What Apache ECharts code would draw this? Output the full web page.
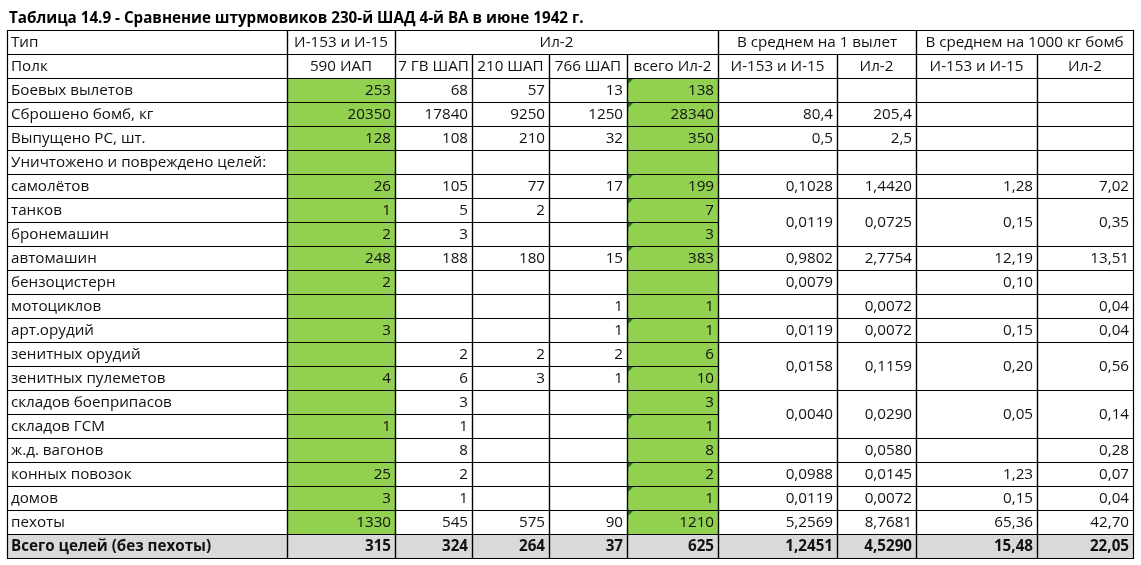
<!DOCTYPE html>
<html>
<head>
<meta charset="utf-8">
<script src="https://cdn.jsdelivr.net/npm/echarts@6/dist/echarts.min.js"></script>
<style>
  html, body { margin: 0; padding: 0; background: #fff; }
  #chart { width: 1141px; height: 565px; }
</style>
</head>
<body>
<div id="chart"></div>
<script>
const tableTitle = 'Таблица 14.9 - Сравнение штурмовиков 230-й ШАД 4-й ВА в июне 1942 г.'

// header rows
const typeHeaders = ['Тип', 'И-153 и И-15', 'Ил-2', 'В среднем на 1 вылет', 'В среднем на 1000 кг бомб']
const regimentHeaders = ['Полк', '590 ИАП', '7 ГВ ШАП', '210 ШАП', '766 ШАП', 'всего Ил-2', 'И-153 и И-15', 'Ил-2', 'И-153 и И-15', 'Ил-2']

// body rows (table rows 2..21)
const rowLabels = [
  'Боевых вылетов', 'Сброшено бомб, кг', 'Выпущено РС, шт.', 'Уничтожено и повреждено целей:',
  'самолётов', 'танков', 'бронемашин', 'автомашин', 'бензоцистерн', 'мотоциклов', 'арт.орудий',
  'зенитных орудий', 'зенитных пулеметов', 'складов боеприпасов', 'складов ГСМ', 'ж.д. вагонов',
  'конных повозок', 'домов', 'пехоты', 'Всего целей (без пехоты)'
]
const iap590 = [253, 20350, 128, null, 26, 1, 2, 248, 2, null, 3, null, 4, null, 1, null, 25, 3, 1330, 315]
const gvshap7 = [68, 17840, 108, null, 105, 5, 3, 188, null, null, null, 2, 6, 3, 1, 8, 2, 1, 545, 324]
const shap210 = [57, 9250, 210, null, 77, 2, null, 180, null, null, null, 2, 3, null, null, null, null, null, 575, 264]
const shap766 = [13, 1250, 32, null, 17, null, null, 15, null, 1, 1, 2, 1, null, null, null, null, null, 90, 37]
const il2Total = [138, 28340, 350, null, 199, 7, 3, 383, null, 1, 1, 6, 10, 3, 1, 8, 2, 1, 1210, 625]
// averages (second row of a merged pair is null)
const perSortieI153 = [null, 80.4, 0.5, null, 0.1028, 0.0119, null, 0.9802, 0.0079, null, 0.0119, 0.0158, null, 0.0040, null, null, 0.0988, 0.0119, 5.2569, 1.2451]
const perSortieIl2 = [null, 205.4, 2.5, null, 1.4420, 0.0725, null, 2.7754, null, 0.0072, 0.0072, 0.1159, null, 0.0290, null, 0.0580, 0.0145, 0.0072, 8.7681, 4.5290]
const per1000I153 = [null, null, null, null, 1.28, 0.15, null, 12.19, 0.10, null, 0.15, 0.20, null, 0.05, null, null, 1.23, 0.15, 65.36, 15.48]
const per1000Il2 = [null, null, null, null, 7.02, 0.35, null, 13.51, null, 0.04, 0.04, 0.56, null, 0.14, null, 0.28, 0.07, 0.04, 42.70, 22.05]

// layout
const colEdges = [0, 280, 388, 465, 542, 620, 711, 830, 909, 1030, 1126]
const mergedStarts = [7, 13, 15] // table rows where avg cells span 2 rows
const flaggedRows = [2, 3, 6, 7, 8, 9, 12, 14, 16, 18, 19, 20]
const GREEN = '#92d050'
const GRAY = '#d9d9d9'
const FONT = '"Open Sans", sans-serif'
const FS = 15.2

const fmt = (v, d) => v == null ? '' : (d == null ? String(v) : v.toFixed(d).replace('.', ','))

const cells = []
function addCell (c0, c1, r0, r1, text, align, fill, bold, flag) {
  cells.push({ c0, c1, r0, r1, text, align, fill: fill || '#fff', bold: !!bold, flag: !!flag })
}

addCell(0, 1, 0, 1, typeHeaders[0], 'left')
addCell(1, 2, 0, 1, typeHeaders[1], 'center')
addCell(2, 6, 0, 1, typeHeaders[2], 'center')
addCell(6, 8, 0, 1, typeHeaders[3], 'center')
addCell(8, 10, 0, 1, typeHeaders[4], 'center')
regimentHeaders.forEach((h, i) => addCell(i, i + 1, 1, 2, h, i === 0 ? 'left' : 'center'))

const countCols = [iap590, gvshap7, shap210, shap766, il2Total]
const avgCols = [perSortieI153, perSortieIl2, per1000I153, per1000Il2]
rowLabels.forEach((label, i) => {
  const r = i + 2
  const last = i === rowLabels.length - 1
  const rowFill = last ? GRAY : null
  addCell(0, 1, r, r + 1, label, 'left', rowFill, last)
  countCols.forEach((col, j) => {
    const c = j + 1
    const green = !last && (c === 1 || c === 5)
    const flag = c === 5 && flaggedRows.includes(r)
    addCell(c, c + 1, r, r + 1, fmt(col[i]), 'right', green ? GREEN : rowFill, last, flag)
  })
  if (mergedStarts.includes(r - 1)) return
  const span = mergedStarts.includes(r) ? 2 : 1
  avgCols.forEach((col, j) => {
    const c = j + 6
    const d = j < 2 ? ((r === 3 || r === 4) ? 1 : 4) : 2
    addCell(c, c + 1, r, r + span, fmt(col[i], d), 'right', rowFill, last)
  })
})

const cellData = cells.map(c => [colEdges[c.c0], c.r0, colEdges[c.c1], c.r1])

function cellBox (api) {
  const p0 = api.coord([api.value(0), api.value(1)])
  const p1 = api.coord([api.value(2), api.value(3)])
  const x0 = Math.round(p0[0]), y0 = Math.round(p0[1])
  const x1 = Math.round(p1[0]), y1 = Math.round(p1[1])
  return { x0, y0, x1, y1 }
}

function renderFill (params, api) {
  const cell = cells[params.dataIndex]
  const b = cellBox(api)
  const children = [{
    type: 'rect',
    shape: { x: b.x0, y: b.y0, width: b.x1 - b.x0, height: b.y1 - b.y0 },
    style: { fill: cell.fill }
  }]
  if (cell.flag) {
    children.push({
      type: 'polygon',
      shape: { points: [[b.x0 + 1, b.y0 + 1], [b.x0 + 6, b.y0 + 1], [b.x0 + 1, b.y0 + 6]] },
      style: { fill: '#1f6f1f' }
    })
  }
  return { type: 'group', children }
}

function renderBorder (params, api) {
  const cell = cells[params.dataIndex]
  const b = cellBox(api)
  const children = [{
    type: 'rect',
    shape: { x: b.x0 + 0.5, y: b.y0 + 0.5, width: b.x1 - b.x0, height: b.y1 - b.y0 },
    style: { fill: 'none', stroke: '#000', lineWidth: 1.2 }
  }]
  if (cell.text) {
    let tx = (b.x0 + b.x1) / 2
    if (cell.align === 'left') tx = b.x0 + 4
    if (cell.align === 'right') tx = b.x1 - 4
    children.push({
      type: 'text',
      style: {
        text: cell.text,
        x: tx,
        y: (b.y0 + b.y1) / 2 + 1,
        align: cell.align,
        verticalAlign: 'middle',
        fill: '#111',
        font: (cell.bold ? 'bold ' : '') + FS + 'px ' + FONT
      }
    })
  }
  return { type: 'group', children }
}

const chart = echarts.init(document.getElementById('chart'))
chart.setOption({
  animation: false,
  backgroundColor: '#fff',
  title: {
    text: tableTitle,
    left: 9,
    top: 11,
    padding: 0,
    textStyle: { fontFamily: FONT, fontSize: FS, fontWeight: 'bold', color: '#000' }
  },
  grid: { left: 7, top: 30, width: 1126, height: 528 },
  xAxis: { type: 'value', min: 0, max: 1126, show: false },
  yAxis: { type: 'value', min: 0, max: 22, inverse: true, show: false },
  series: [
    { type: 'custom', renderItem: renderFill, data: cellData, encode: { x: [0, 2], y: [1, 3] }, z: 1, silent: true },
    { type: 'custom', renderItem: renderBorder, data: cellData, encode: { x: [0, 2], y: [1, 3] }, z: 2, silent: true }
  ]
})
</script>
</body>
</html>
